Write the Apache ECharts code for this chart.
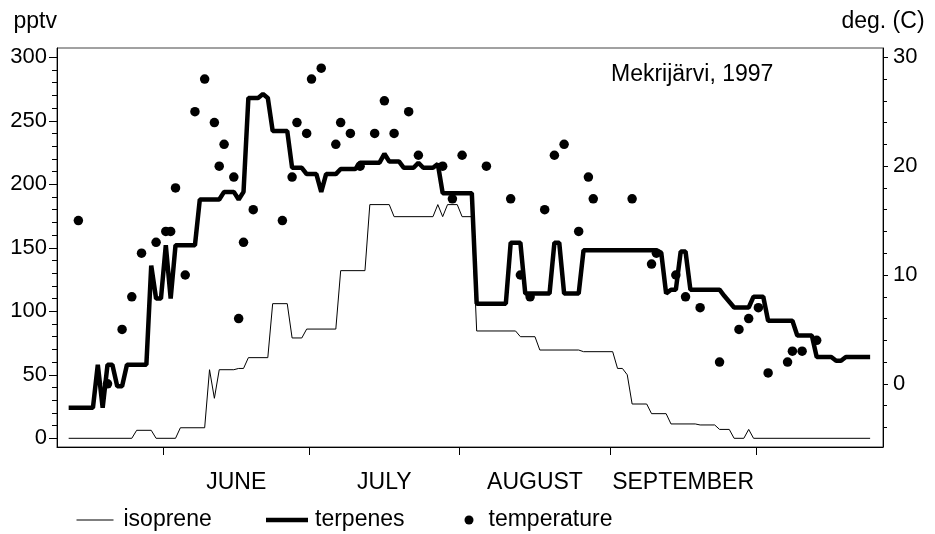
<!DOCTYPE html>
<html>
<head>
<meta charset="utf-8">
<script src="https://cdn.jsdelivr.net/npm/echarts@6/dist/echarts.min.js"></script>
<style>
  html, body { margin: 0; padding: 0; background: #fff; }
  #chart { width: 935px; height: 534px; }
</style>
</head>
<body>
<div id="chart"></div>
<script>
// Daily values, x = day of year 1997 (a day's value sits on its day number,
// so month boundaries fall half a day before the 1st).
const monthNames  = ['JUNE', 'JULY', 'AUGUST', 'SEPTEMBER'];
const monthStarts = [151.5, 181.5, 212.5, 243.5, 273.5];
const monthMids   = [166.5, 197, 228, 258.5];

const pptvTicks = [0, 50, 100, 150, 200, 250, 300];
const tempTicks = [0, 10, 20, 30];

// isoprene mixing ratio, pptv  [day, value]
const isoprene = [
  [132, 0], [145, 0], [146, 6.3], [149, 6.3], [150, 0], [154, 0], [155, 8.3], [160, 8.3],
  [161, 54], [162, 31.5], [163, 54], [166, 54], [167, 55], [168, 55], [169, 63.5], [173, 63.5],
  [174, 106], [177, 106], [178, 79], [180, 79], [181, 86], [187, 86], [188, 132], [193, 132],
  [194, 184], [198, 184], [199, 174.5], [207, 174.5], [208, 184], [209, 174.5], [210, 184],
  [212, 184], [213, 174.5], [215, 174.5], [216, 84.5], [224, 84.5], [225, 80], [228, 80],
  [229, 69.5], [237, 69.5], [238, 68.2], [244, 68.2], [245, 55], [246, 55], [247, 50],
  [248, 27], [251, 27], [252, 19.4], [255, 19.4], [256, 11.3], [261, 11.3], [262, 10.5],
  [265, 10.5], [266, 7], [268, 7], [269, 0], [271, 0], [272, 7], [273, 0], [297, 0]
];

// total monoterpenes, pptv  [day, value]
const terpenes = [
  [132, 24], [137, 24], [138, 58], [139, 24], [140, 58], [141, 58], [142, 41], [143, 41],
  [144, 58], [148, 58], [149, 136], [150, 110], [151, 110], [152, 152], [153, 110], [154, 152],
  [158, 152], [159, 188], [163, 188], [164, 194], [166, 194], [167, 188], [168, 194],
  [169, 268], [171, 268], [172, 271], [173, 268], [174, 242], [177, 242], [178, 213],
  [180, 213], [181, 208], [183, 208], [184, 194], [185, 208], [187, 208], [188, 212],
  [191, 212], [192, 217], [196, 217], [197, 224], [198, 218], [200, 218], [201, 213],
  [203, 213], [204, 217], [205, 213], [207, 213], [208, 216], [209, 193], [215, 193],
  [216, 106], [222, 106], [223, 154], [225, 154], [226, 114], [231, 114], [232, 154],
  [233, 154], [234, 114], [237, 114], [238, 148], [253, 148], [254, 146], [255, 114],
  [256, 117], [257, 117], [258, 147], [259, 147], [260, 117], [266, 117], [267, 112],
  [269, 103], [272, 103], [273, 111.5], [275, 111.5], [276, 92.6], [281, 92.6], [282, 81],
  [285, 81], [286, 64], [289, 64], [290, 61], [291, 61], [292, 64], [297, 64]
];

// daily temperature, deg C  [day, value]
const temperature = [
  [134, 15], [140, 0], [143, 5], [145, 8], [147, 12], [150, 13], [152, 14], [153, 14],
  [154, 18], [156, 10], [158, 25], [160, 28], [162, 24], [163, 20], [164, 22], [166, 19],
  [167, 6], [168, 13], [170, 16], [176, 15], [178, 19], [179, 24], [181, 23], [182, 28],
  [184, 29], [187, 22], [188, 24], [190, 23], [192, 20], [195, 23], [197, 26], [199, 23],
  [202, 25], [204, 21], [209, 20], [211, 17], [213, 21], [218, 20], [223, 17], [225, 10],
  [227, 8], [230, 16], [232, 21], [234, 22], [237, 14], [239, 19], [240, 17], [248, 17],
  [252, 11], [253, 12], [257, 10], [259, 8], [262, 7], [266, 2], [270, 5], [272, 6],
  [274, 7], [276, 1], [280, 2], [281, 3], [283, 3], [286, 4]
];

// axis extents (left pptv scale and right temperature scale share the frame)
const X_MIN = 129.6, X_MAX = 299.65;
const P_MIN = -6.85, P_MAX = 307.3;
const T_MIN = -5 + P_MIN * 35 / 300, T_MAX = -5 + P_MAX * 35 / 300;

// minor tick positions
const pptvMinor = [];
for (let v = 10; v < 300; v += 10) if (v % 50 !== 0) pptvMinor.push(v);
const tempMinor = [];
for (let v = -4; v < 30; v += 2) if (v % 10 !== 0) tempMinor.push(v);

const FONT = '"Liberation Sans", Arial, Helvetica, sans-serif';
const INK = '#000';

function valueAxis(extra) {
  return Object.assign({
    type: 'value',
    splitLine: { show: false },
    axisLine: { show: true, onZero: false, lineStyle: { color: INK, width: 1 } },
    axisTick: { show: true, inside: false, lineStyle: { color: INK, width: 1 } },
    axisLabel: { show: false }
  }, extra);
}

// tick-only axis: blank labels keep the custom tick positions in use
function minorTickAxis(position, min, max, values, len) {
  return valueAxis({
    position: position, offset: 0, min: min, max: max,
    axisLine: { show: false, onZero: false },
    axisTick: { show: true, customValues: values, length: len, lineStyle: { color: INK, width: 1 } },
    axisLabel: { show: true, customValues: values, fontSize: 8, formatter: () => '' }
  });
}

const chart = echarts.init(document.getElementById('chart'), null, { renderer: 'canvas' });

chart.setOption({
  animation: false,
  backgroundColor: '#fff',
  textStyle: { fontFamily: FONT, color: INK },
  title: {
    text: 'Mekrijärvi, 1997',
    left: 611, top: 63.5, padding: 0,
    textStyle: { fontFamily: FONT, fontSize: 23, fontWeight: 'normal', color: INK }
  },
  grid: {
    left: 57, right: 52, top: 48, bottom: 87,
    show: true, borderColor: '#444', borderWidth: 1, backgroundColor: 'transparent'
  },
  legend: [
    {
      data: [{ name: 'isoprene', icon: 'rect' }],
      left: 76.5, top: 508.5, padding: 0,
      itemWidth: 37, itemHeight: 1,
      itemStyle: { color: INK, borderWidth: 0 },
      selectedMode: false,
      textStyle: { fontFamily: FONT, fontSize: 23, color: INK, padding: [0, 0, 0, 5] }
    },
    {
      data: [{ name: 'terpenes', icon: 'rect' }],
      left: 266, top: 508.5, padding: 0,
      itemWidth: 42, itemHeight: 4.5,
      itemStyle: { color: INK, borderWidth: 0 },
      selectedMode: false,
      textStyle: { fontFamily: FONT, fontSize: 23, color: INK, padding: [0, 0, 0, 2] }
    },
    {
      data: [{ name: 'temperature', icon: 'circle' }],
      left: 464.5, top: 508.5, padding: 0,
      itemWidth: 9, itemHeight: 9,
      itemStyle: { color: INK, borderWidth: 0, opacity: 1 },
      selectedMode: false,
      textStyle: { fontFamily: FONT, fontSize: 23, color: INK, padding: [0, 0, 0, 10] }
    }
  ],
  xAxis: {
    type: 'value',
    min: X_MIN, max: X_MAX,
    splitLine: { show: false },
    axisLine: { show: true, onZero: false, lineStyle: { color: INK, width: 1 } },
    axisTick: { show: true, customValues: monthStarts, length: 8, lineStyle: { color: INK } },
    axisLabel: {
      customValues: monthMids,
      formatter: v => monthNames[monthMids.indexOf(v)] || '',
      fontFamily: FONT, fontSize: 23, color: INK, margin: 24
    }
  },
  yAxis: [
    valueAxis({
      position: 'left', min: P_MIN, max: P_MAX,
      name: 'pptv', nameLocation: 'end', nameGap: 15,
      nameTextStyle: { fontFamily: FONT, fontSize: 23, color: INK, align: 'right', verticalAlign: 'bottom' },
      axisTick: { show: true, customValues: pptvTicks, length: 8, lineStyle: { color: INK } },
      axisLabel: { show: true, customValues: pptvTicks, fontFamily: FONT, fontSize: 22, color: INK, margin: 10 }
    }),
    minorTickAxis('left', P_MIN, P_MAX, pptvMinor, 5),
    valueAxis({
      position: 'right', min: T_MIN, max: T_MAX,
      name: 'deg. (C)', nameLocation: 'end', nameGap: 15,
      nameTextStyle: { fontFamily: FONT, fontSize: 23, color: INK, align: 'center', verticalAlign: 'bottom' },
      axisTick: { show: true, customValues: tempTicks, length: 5, lineStyle: { color: INK } },
      axisLabel: { show: true, customValues: tempTicks, fontFamily: FONT, fontSize: 22, color: INK, margin: 10 }
    }),
    minorTickAxis('right', T_MIN, T_MAX, tempMinor, 4)
  ],
  series: [
    {
      name: 'isoprene', type: 'line', yAxisIndex: 0,
      data: isoprene, symbol: 'none', silent: true,
      lineStyle: { color: INK, width: 1 }, itemStyle: { color: INK }
    },
    {
      name: 'terpenes', type: 'line', yAxisIndex: 0,
      data: terpenes, symbol: 'none', silent: true,
      lineStyle: { color: INK, width: 4.5 }, itemStyle: { color: INK }
    },
    {
      name: 'temperature', type: 'scatter', yAxisIndex: 2,
      data: temperature, symbol: 'circle', symbolSize: 9.5, silent: true,
      itemStyle: { color: INK, opacity: 1 }
    }
  ]
});
</script>
</body>
</html>
